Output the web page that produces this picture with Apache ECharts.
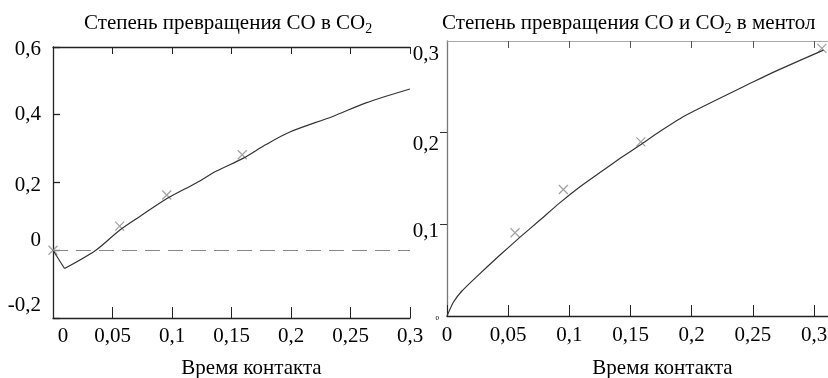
<!DOCTYPE html>
<html>
<head>
<meta charset="utf-8">
<script src="https://cdn.jsdelivr.net/npm/echarts@6/dist/echarts.min.js"></script>
<style>
  html, body { margin: 0; padding: 0; background: #fff; }
  #chart { width: 828px; height: 378px; }
</style>
</head>
<body>
<div id="chart"></div>
<script>
// левый график: степень превращения CO в CO2
var leftDip = [[0, 0], [0.0097, -0.054]];
var leftCurve = [
  [0.0097, -0.054], [0.036, 0], [0.056, 0.059], [0.0727, 0.099],
  [0.0965, 0.154], [0.12, 0.198], [0.137, 0.233], [0.16, 0.272],
  [0.179, 0.312], [0.199, 0.349], [0.235, 0.395], [0.263, 0.435], [0.3, 0.476]
];
var leftPoints = [[0, 0], [0.056, 0.071], [0.0956, 0.163], [0.159, 0.282]];

// правый график: степень превращения CO и CO2 в ментол
var rightCurve = [
  [0, 0], [0.0052, 0.015], [0.012, 0.027], [0.0243, 0.043], [0.0433, 0.0665],
  [0.0597, 0.086], [0.076, 0.1047], [0.0924, 0.1237], [0.1087, 0.141],
  [0.125, 0.1565], [0.1415, 0.172], [0.1578, 0.1865], [0.1742, 0.2015],
  [0.196, 0.2195], [0.2505, 0.2555], [0.2701, 0.268], [0.3077, 0.290]
];
var rightPoints = [[0.0556, 0.0908], [0.0951, 0.138], [0.1584, 0.190], [0.3064, 0.292]];

var xTicks = [0, 0.05, 0.1, 0.15, 0.2, 0.25, 0.3];
var leftYTicks = [-0.2, 0, 0.2, 0.4, 0.6];
var rightYTicks = [0, 0.1, 0.2, 0.3];

var FONT = 'Liberation Serif';
var FS = 21;
var cross = 'path://M0,0L10,10M10,0L0,10';

function comma(v) {
  return String(Math.round(v * 1000) / 1000).replace('.', ',');
}

function txt(size, pad) {
  return { fontFamily: FONT, fontSize: size, color: '#000', padding: pad };
}

var option = {
  backgroundColor: '#fff',
  animation: false,
  textStyle: { fontFamily: FONT, color: '#000' },
  title: [
    {
      text: 'Степень превращения CO в CO{sub|2}',
      left: 79, top: 5,
      textStyle: {
        fontFamily: FONT, fontSize: FS, fontWeight: 'normal', color: '#000',
        rich: { sub: txt(14, [12, 0, 0, 0]) }
      }
    },
    {
      text: 'Степень превращения CO и CO{sub|2} в ментол',
      left: 437, top: 5,
      textStyle: {
        fontFamily: FONT, fontSize: FS, fontWeight: 'normal', color: '#000',
        rich: { sub: txt(14, [12, 0, 0, 0]) }
      }
    }
  ],
  grid: [
    { left: 53, top: 47, width: 357, height: 271, outerBoundsMode: 'none' },
    { left: 447, top: 41, width: 381, height: 275, outerBoundsMode: 'none' }
  ],
  xAxis: [
    {
      gridIndex: 0, type: 'value', position: 'bottom', min: 0, max: 0.3,
      splitLine: { show: false },
      axisLine: { onZero: false, lineStyle: { color: '#222', width: 1.3 } },
      axisTick: { inside: true, length: 11, customValues: xTicks, lineStyle: { color: '#222' } },
      axisLabel: {
        customValues: xTicks, margin: 8, fontFamily: FONT, fontSize: FS, color: '#000',
        formatter: function (v) { return v === 0 ? '{sh|0}' : comma(v); },
        rich: { sh: txt(FS, [0, 0, 0, 20]) }
      },
      name: 'Время контакта', nameLocation: 'middle', nameGap: 40,
      nameTextStyle: txt(FS, [0, 0, 0, 40])
    },
    {
      gridIndex: 0, type: 'value', position: 'top', min: 0, max: 0.3,
      splitLine: { show: false },
      axisLine: { onZero: false, lineStyle: { color: '#222', width: 1.3 } },
      axisTick: { inside: true, length: 7, customValues: [0.05, 0.1, 0.15, 0.2, 0.25, 0.3], lineStyle: { color: '#222' } },
      axisLabel: { show: false }
    },
    {
      gridIndex: 1, type: 'value', position: 'bottom', min: 0, max: 0.3114,
      splitLine: { show: false },
      axisLine: { onZero: false, lineStyle: { color: '#222', width: 1.3 } },
      axisTick: { inside: true, length: 11, customValues: xTicks, lineStyle: { color: '#222' } },
      axisLabel: {
        customValues: xTicks, margin: 9, fontFamily: FONT, fontSize: FS, color: '#000',
        formatter: comma
      },
      name: 'Время контакта', nameLocation: 'middle', nameGap: 42,
      nameTextStyle: txt(FS, [0, 0, 0, 50])
    },
    {
      gridIndex: 1, type: 'value', position: 'top', min: 0, max: 0.3114,
      splitLine: { show: false },
      axisLine: { onZero: false, lineStyle: { color: '#aaa', width: 1 } },
      axisTick: { inside: true, length: 7, customValues: [0.05, 0.1, 0.15, 0.2, 0.25, 0.3], lineStyle: { color: '#555' } },
      axisLabel: { show: false }
    }
  ],
  yAxis: [
    {
      gridIndex: 0, type: 'value', min: -0.2, max: 0.6,
      splitLine: { show: false },
      axisLine: { onZero: false, lineStyle: { color: '#222', width: 1.3 } },
      axisTick: { inside: true, length: 7, customValues: leftYTicks, lineStyle: { color: '#222', width: 1.3 } },
      axisLabel: {
        customValues: leftYTicks, margin: 12, fontFamily: FONT, fontSize: FS, color: '#000',
        formatter: function (v) {
          if (v === 0) return '{a|0}';
          if (v === -0.2) return '{b|-0,2}';
          if (v === 0.4) return '{m|0,4}';
          return '{n|' + comma(v) + '}';
        },
        rich: {
          n: txt(FS, [5, 0, 0, 0]),
          m: txt(FS, [0, 0, 0, 0]),
          a: txt(FS, [0, 0, 20, 0]),
          b: txt(FS, [0, 0, 26, 0])
        }
      }
    },
    {
      gridIndex: 1, type: 'value', min: 0, max: 0.3,
      splitLine: { show: false },
      axisLine: { onZero: false, lineStyle: { color: '#777', width: 1.3 } },
      axisTick: { inside: false, length: 7, customValues: [0.1, 0.2], lineStyle: { color: '#333' } },
      axisLabel: {
        customValues: rightYTicks, margin: 8, fontFamily: FONT, fontSize: FS, color: '#000',
        formatter: function (v) {
          if (v === 0) return '{z|0}';
          if (v === 0.1) return '{p|0,1}';
          if (v === 0.2) return '{q|0,2}';
          return '{r|0,3}';
        },
        rich: {
          z: txt(7, [4, 0, 0, 0]),
          p: txt(FS, [14, 0, 0, 0]),
          q: txt(FS, [24, 0, 0, 0]),
          r: txt(FS, [26, 0, 0, 0])
        }
      }
    }
  ],
  series: [
    {
      type: 'line', xAxisIndex: 0, yAxisIndex: 0, data: leftDip,
      showSymbol: false, lineStyle: { color: '#333', width: 1.2 },
      markLine: {
        silent: true, symbol: 'none', label: { show: false },
        lineStyle: { color: '#888', type: [15, 8], width: 1.2 },
        data: [{ yAxis: 0 }]
      }
    },
    {
      type: 'line', xAxisIndex: 0, yAxisIndex: 0, data: leftCurve,
      smooth: 0.3, showSymbol: false, lineStyle: { color: '#333', width: 1.2 }
    },
    {
      type: 'scatter', xAxisIndex: 0, yAxisIndex: 0, data: leftPoints,
      symbol: cross, symbolSize: 9,
      itemStyle: { color: 'none', borderColor: '#888', borderWidth: 1.2 }
    },
    {
      type: 'line', xAxisIndex: 2, yAxisIndex: 1, data: rightCurve,
      smooth: 0.2, showSymbol: false, lineStyle: { color: '#333', width: 1.2 }
    },
    {
      type: 'scatter', xAxisIndex: 2, yAxisIndex: 1, data: rightPoints,
      symbol: cross, symbolSize: 9,
      itemStyle: { color: 'none', borderColor: '#888', borderWidth: 1.2 }
    }
  ]
};

var myChart = echarts.init(document.getElementById('chart'));
myChart.setOption(option);
</script>
</body>
</html>
